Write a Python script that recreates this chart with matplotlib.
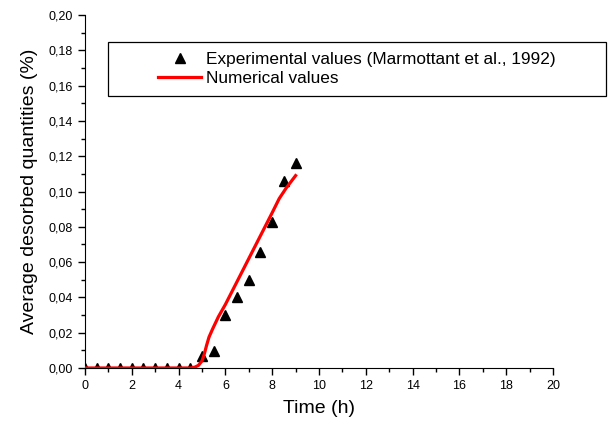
import numpy as np
import matplotlib
matplotlib.use("Agg")
from matplotlib import pyplot as plt
from matplotlib.patches import Rectangle
from matplotlib.ticker import MultipleLocator, FuncFormatter

# measured desorption (Marmottant et al., 1992)
exp_time = [0, 0.5, 1, 1.5, 2, 2.5, 3, 3.5, 4, 4.5, 5, 5.5, 6, 6.5, 7, 7.5, 8, 8.5, 9]
exp_values = [0, 0, 0, 0, 0, 0, 0, 0, 0, 0, 0.0068, 0.0096, 0.030, 0.040, 0.050,
              0.066, 0.083, 0.106, 0.116]

# model output
num_time = [0, 4.5, 4.7, 4.85, 5.0, 5.1, 5.2, 5.3, 5.45, 5.7, 6.0, 6.5, 7.0, 7.5,
            8.0, 8.3, 8.6, 9.0]
num_values = [0, 0, 0.0005, 0.0015, 0.004, 0.008, 0.013, 0.0175, 0.022, 0.029, 0.036,
              0.049, 0.062, 0.075, 0.088, 0.096, 0.102, 0.109]

plt.rcParams['font.family'] = ['Liberation Sans', 'DejaVu Sans']

fig = plt.figure(figsize=(6.1, 4.29), dpi=100)
ax = fig.add_axes([0.1393, 0.1422, 0.7673, 0.8228])

ax.plot(exp_time, exp_values, linestyle="none", marker="^", color="black",
        markersize=6.5, label="Experimental values (Marmottant et al., 1992)", zorder=2)
ax.plot(num_time, num_values, color="#ff0000", linewidth=2.3,
        label="Numerical values", zorder=3)

ax.set_xlim(0, 20)
ax.set_ylim(0, 0.20)
ax.xaxis.set_major_locator(MultipleLocator(2))
ax.xaxis.set_minor_locator(MultipleLocator(1))
ax.yaxis.set_major_locator(MultipleLocator(0.02))
ax.yaxis.set_minor_locator(MultipleLocator(0.01))
ax.yaxis.set_major_formatter(FuncFormatter(lambda v, p: ("%.2f" % v).replace(".", ",")))

ax.spines["top"].set_visible(False)
ax.spines["right"].set_visible(False)
ax.tick_params(which="both", direction="out", labelsize=9, width=1)
ax.tick_params(which="major", length=5)
ax.tick_params(which="minor", length=3)

ax.set_xlabel("Time (h)", fontsize=14, labelpad=6)
ax.set_ylabel("Average desorbed quantities (%)", fontsize=14, labelpad=8)

# legend text without its own frame, boxed by a plain rectangle
handles, labels = ax.get_legend_handles_labels()
fig.legend(handles, labels, loc="upper left", bbox_to_anchor=(158 / 610, 1 - 52 / 429),
           bbox_transform=fig.transFigure, frameon=False, fontsize=12.4,
           handlelength=2.5, handletextpad=0.3, labelspacing=0.25,
           borderpad=0, borderaxespad=0)
fig.patches.append(Rectangle((108 / 610, 1 - 96 / 429), 498 / 610, 54 / 429,
                             transform=fig.transFigure, fill=False,
                             edgecolor="black", linewidth=0.9))

fig.savefig("out.png", dpi=100)
